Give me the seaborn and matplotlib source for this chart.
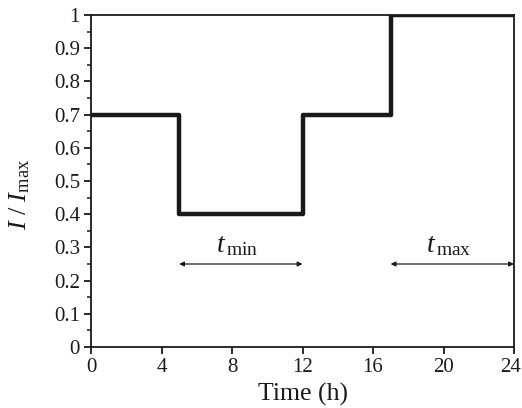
import matplotlib
matplotlib.use("Agg")
import matplotlib.pyplot as plt
import matplotlib.transforms as mtransforms
from matplotlib.ticker import MultipleLocator, FuncFormatter
import seaborn as sns
import pandas as pd

# Normalized load profile over one day (step changes)
times = [0, 5, 12, 17, 24]
levels = [0.7, 0.4, 0.7, 1.0, 1.0]

# Spans marked with double-headed arrows
span_labels = [r"$t_{\,\mathrm{min}}$", r"$t_{\,\mathrm{max}}$"]
span_start = [5, 17]
span_end = [12, 24]
span_level = 0.25

x_ticks = [0, 4, 8, 12, 16, 20, 24]

sns.set_theme(style="ticks")
plt.rcParams["font.family"] = ["Liberation Serif", "DejaVu Serif"]
plt.rcParams["mathtext.fontset"] = "custom"
plt.rcParams["mathtext.rm"] = "Liberation Serif"
plt.rcParams["mathtext.it"] = "Liberation Serif:italic"

ink = "#1a1a1a"
df = pd.DataFrame({"time": times, "level": levels})

fig = plt.figure(figsize=(5.22, 4.08), dpi=100)
ax = fig.add_axes([91 / 522, 1 - 347 / 408, 423 / 522, 332 / 408])

sns.lineplot(data=df, x="time", y="level", drawstyle="steps-post",
             color=ink, linewidth=3.2, ax=ax)

for lab, a, b in zip(span_labels, span_start, span_end):
    ax.annotate("", xy=(a, span_level), xytext=(b, span_level),
                arrowprops=dict(arrowstyle="<|-|>", color=ink, lw=0.9,
                                mutation_scale=7, shrinkA=0, shrinkB=0))
    ax.text((a + b) / 2 - 0.2, span_level + 0.017, lab, ha="center", va="bottom",
            fontsize=20, color=ink)

ax.set_xlim(0, 24)
ax.set_ylim(0, 1)
ax.set_xticks(x_ticks)
ax.yaxis.set_major_locator(MultipleLocator(0.1))
ax.yaxis.set_minor_locator(MultipleLocator(0.05))
ax.yaxis.set_major_formatter(FuncFormatter(lambda v, p: f"{v:g}"))

ax.set_xlabel("Time (h)", fontsize=18.5, color=ink, labelpad=4)
ax.set_ylabel(r"$I\ /\ I_{\mathrm{max}}$", fontsize=19, color=ink)
ax.yaxis.set_label_coords(-0.14, 0.46)

for s in ax.spines.values():
    s.set_linewidth(1.3)
    s.set_color(ink)

ax.tick_params(axis="both", which="major", direction="out", length=5, width=1.3,
               labelsize=15, colors=ink, pad=3)
ax.tick_params(axis="y", which="minor", direction="out", length=3, width=1.1,
               colors=ink)
ax.tick_params(top=False, right=False, which="both")

# keep the last x tick label inside the canvas
last = ax.get_xticklabels()[-1]
last.set_transform(last.get_transform() +
                   mtransforms.ScaledTranslation(-3 / 100, 0, fig.dpi_scale_trans))

fig.savefig("out.png", dpi=100, facecolor="white")
